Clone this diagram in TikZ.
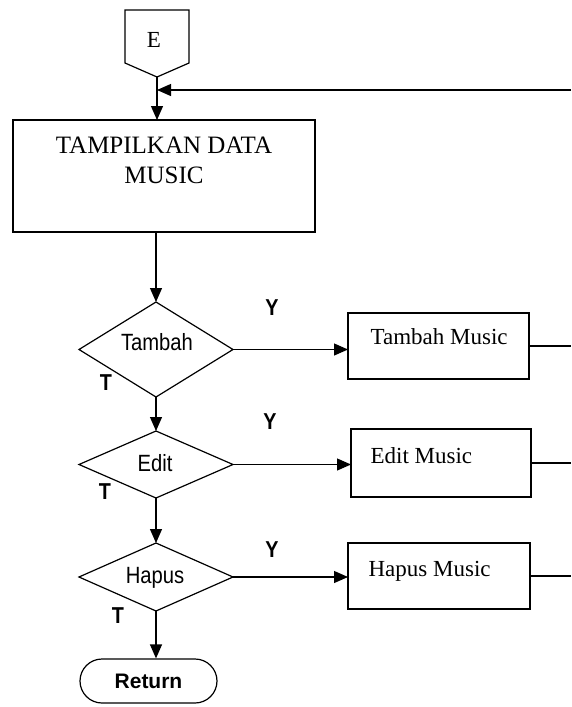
\documentclass[tikz,border=0pt]{standalone}
\usepackage{fontspec}
\setmainfont{Liberation Serif}
\newfontfamily\narrowsans[FakeStretch=0.86]{Liberation Sans}
\newfontfamily\plainsans{Liberation Sans}
\usetikzlibrary{shapes.geometric,arrows.meta}
\begin{document}
\begin{tikzpicture}[x=1pt,y=-1pt,line width=1.2pt,
  arr/.style={-{Triangle[length=14pt,width=12pt]}},
  boxst/.style={draw,rectangle,inner sep=0pt,outer sep=0pt,anchor=north west},
  dia/.style={draw,diamond,inner sep=0pt,outer sep=0pt,minimum width=154pt},
  serift/.style={inner sep=0pt,font=\fontsize{23}{23}\selectfont},
  diatext/.style={inner sep=0pt,anchor=base,font=\narrowsans\fontsize{23.5}{23.5}\selectfont},
  yt/.style={inner sep=0pt,font=\narrowsans\bfseries\fontsize{23}{23}\selectfont}]
\useasboundingbox (0,0) rectangle (571,707);
\coordinate (edge) at (571,0);
% terminator E
\coordinate (Ept) at (157,77);
\draw (125,10) -- (189,10) -- (189,63) -- (Ept) -- (125,63) -- cycle;
\node[serift,anchor=base,font=\fontsize{23}{23}\selectfont] (elab) at (154,47) {E};
\coordinate (join) at (157,90);
\coordinate (topR) at (571,90);
% main box
\node[boxst,minimum width=302pt,minimum height=112pt] (main) at (13,120) {};
\node[serift,anchor=base,font=\fontsize{25}{25}\selectfont] (mt1) at (164,153) {TAMPILKAN DATA};
\node[serift,anchor=base,font=\fontsize{25}{25}\selectfont] (mt2) at (164,183) {MUSIC};
% diamonds
\node[dia,minimum height=95pt] (d1) at (156,349.5) {};
\node[dia,minimum height=67pt] (d2) at (156,464.5) {};
\node[dia,minimum height=68pt] (d3) at (156,577) {};
\node[diatext] (d1t) at (157,350) {Tambah};
\node[diatext] (d2t) at (155,471) {Edit};
\node[diatext] (d3t) at (155,583) {Hapus};
% process boxes
\node[boxst,minimum width=181pt,minimum height=66pt] (b1) at (348,313) {};
\node[boxst,minimum width=180pt,minimum height=68pt] (b2) at (351,429) {};
\node[boxst,minimum width=182pt,minimum height=66pt] (b3) at (348,543) {};
\node[serift,anchor=base west] (b1t) at (370,344) {Tambah Music};
\node[serift,anchor=base west] (b2t) at (370,463) {Edit Music};
\node[serift,anchor=base west] (b3t) at (368,576) {Hapus Music};
% Y / T labels
\node[yt] (y1) at (272,308) {Y};
\node[yt] (y2) at (270,422) {Y};
\node[yt] (y3) at (272,550) {Y};
\node[yt] (tl1) at (106,383) {T};
\node[yt] (tl2) at (105,492) {T};
\node[yt] (tl3) at (118,616) {T};
% return
\node[draw,rectangle,rounded corners=22pt,minimum width=137pt,minimum height=44pt,inner sep=0pt,
  font=\plainsans\bfseries\fontsize{21}{21}\selectfont] (ret) at (148.5,681) {Return};
% connectors
\draw[arr] (topR) -- (join);
\draw[arr] (Ept) -- (Ept |- main.north);
\draw[arr] (d1.north |- main.south) -- (d1.north);
\draw[arr] (d1.south) -- (d2.north);
\draw[arr] (d2.south) -- (d3.north);
\draw[arr] (d3.south) -- (d3.south |- ret.north);
\draw[arr] (d1.east) -- (d1.east -| b1.west);
\draw[arr] (d2.east) -- (d2.east -| b2.west);
\draw[arr] (d3.east) -- (d3.east -| b3.west);
\draw (b1.east) -- (b1.east -| edge);
\draw (b2.east) -- (b2.east -| edge);
\draw (b3.east) -- (b3.east -| edge);
\end{tikzpicture}
\end{document}
